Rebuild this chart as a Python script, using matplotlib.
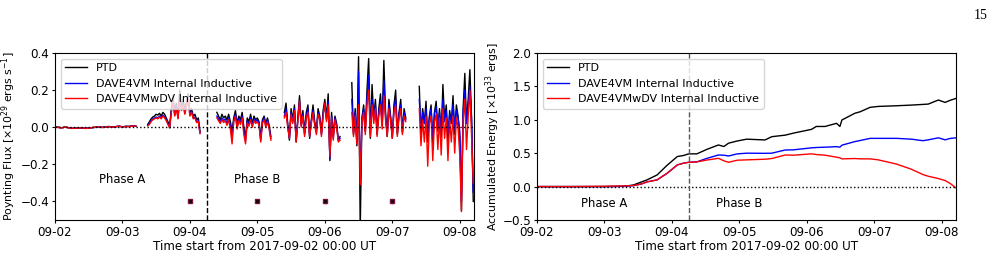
import numpy as np
import matplotlib
matplotlib.use("Agg")
import matplotlib.pyplot as plt
import matplotlib.dates as mdates

# ---- Poynting flux (x1e29 ergs/s); each segment = (start day, cadence in days) ----
seg_start_days = [0.0, 1.375, 2.4, 3.4, 4.4, 5.4]
seg_step_days = [0.05, 0.025, 0.025, 0.025, 0.025, 0.025]

flux_ptd = [
    [0.002, 0.000, -0.003, 0.001, -0.002, -0.006, -0.004, -0.005, -0.003, -0.006, -0.004, -0.002, 0.000,
     0.003, -0.001, 0.002, 0.004, 0.001, 0.003, 0.006, 0.002, 0.005, 0.004, 0.008, 0.006],
    [0.015, 0.03, 0.045, 0.055, 0.06, 0.07, 0.065, 0.075, 0.06, 0.08, 0.07, 0.05, 0.03, 0.005, 0.10, 0.17,
     0.08, 0.13, 0.06, 0.20, 0.11, 0.15, 0.09, 0.14, 0.18, 0.08, 0.10, 0.06, 0.07, 0.04, 0.05, -0.025],
    [0.08, 0.06, 0.04, 0.07, 0.05, 0.06, 0.04, 0.07, 0.03, -0.02, 0.05, 0.09, 0.02, 0.06, 0.04, 0.08, 0.00,
     -0.06, 0.05, 0.03, 0.07, 0.02, 0.06, 0.04, 0.05, 0.03, -0.06, 0.04, 0.06, 0.02, 0.05, 0.01, -0.05],
    [0.08, 0.13, 0.02, -0.07, 0.10, 0.04, 0.12, -0.08, 0.05, 0.17, 0.02, 0.09, -0.03, 0.08, 0.12, -0.06, 0.04,
     0.12, 0.03, -0.02, 0.10, 0.06, -0.03, 0.09, 0.15, 0.05, 0.18, -0.18, 0.08, -0.05, 0.06, 0.02, -0.07, -0.05],
    [0.24, -0.04, 0.10, -0.10, 0.38, -0.55, 0.05, 0.12, -0.02, 0.20, 0.37, -0.06, 0.23, 0.05, 0.15, -0.04,
     0.10, 0.18, 0.02, 0.36, 0.08, -0.05, 0.15, 0.06, -0.06, 0.12, 0.20, -0.04, 0.08, 0.15, -0.03, 0.10, 0.05],
    [0.22, -0.05, 0.10, 0.02, 0.14, -0.08, 0.06, 0.12, -0.10, 0.08, 0.14, -0.02, 0.10, -0.06, 0.23, 0.04,
     0.12, -0.08, 0.09, 0.02, 0.17, -0.04, 0.12, 0.06, -0.05, -0.45, 0.10, 0.29, 0.02, 0.15, 0.31, 0.05, -0.40],
]
flux_dave = [
    [0.001, -0.001, -0.003, 0.000, -0.003, -0.006, -0.005, -0.005, -0.004, -0.006, -0.004, -0.003, -0.001,
     0.002, -0.001, 0.001, 0.003, 0.001, 0.002, 0.005, 0.002, 0.004, 0.004, 0.007, 0.005],
    [0.01, 0.02, 0.035, 0.045, 0.05, 0.055, 0.05, 0.06, 0.05, 0.065, 0.055, 0.04, 0.02, 0.0, 0.085, 0.15,
     0.065, 0.11, 0.05, 0.18, 0.095, 0.13, 0.075, 0.12, 0.16, 0.065, 0.085, 0.05, 0.055, 0.03, 0.035, -0.03],
    [0.06, 0.045, 0.03, 0.05, 0.035, 0.045, 0.02, 0.05, 0.01, -0.05, 0.035, 0.07, 0.0, 0.045, 0.025, 0.06,
     -0.02, -0.075, 0.035, 0.015, 0.05, 0.01, 0.045, 0.03, 0.04, 0.02, -0.07, 0.03, 0.05, 0.01, 0.04, 0.0, -0.06],
    [0.06, 0.10, 0.01, -0.06, 0.08, 0.03, 0.10, -0.07, 0.04, 0.14, 0.01, 0.07, -0.04, 0.06, 0.10, -0.05, 0.03,
     0.09, 0.02, -0.03, 0.08, 0.05, -0.04, 0.07, 0.12, 0.04, 0.14, -0.17, 0.06, -0.06, 0.05, 0.01, -0.07, -0.06],
    [0.15, -0.03, 0.08, -0.08, 0.30, -0.30, 0.04, 0.10, -0.02, 0.15, 0.28, -0.04, 0.15, 0.04, 0.12, -0.03,
     0.08, 0.14, 0.01, 0.25, 0.06, -0.04, 0.12, 0.05, -0.05, 0.10, 0.15, -0.03, 0.07, 0.12, -0.02, 0.08, 0.04],
    [0.15, 0.0, 0.08, 0.02, 0.10, -0.04, 0.05, 0.10, -0.05, 0.07, 0.11, 0.0, 0.08, -0.03, 0.15, 0.03,
     0.09, -0.04, 0.07, 0.02, 0.12, -0.01, 0.09, 0.05, -0.02, -0.40, 0.08, 0.20, 0.02, 0.12, 0.22, 0.04, -0.35],
]
flux_davewdv = [
    [0.002, -0.002, -0.004, 0.001, -0.003, -0.007, -0.004, -0.006, -0.003, -0.007, -0.005, -0.002, 0.000,
     0.002, -0.002, 0.001, 0.003, 0.000, 0.003, 0.005, 0.001, 0.004, 0.003, 0.007, 0.005],
    [0.008, 0.015, 0.03, 0.04, 0.045, 0.05, 0.045, 0.055, 0.045, 0.06, 0.05, 0.035, 0.015, -0.005, 0.08, 0.14,
     0.06, 0.10, 0.045, 0.17, 0.09, 0.12, 0.07, 0.11, 0.15, 0.06, 0.08, 0.045, 0.05, 0.025, 0.03, -0.035],
    [0.05, 0.035, 0.02, 0.04, 0.025, 0.035, 0.01, 0.04, -0.01, -0.09, 0.03, 0.06, -0.01, 0.035, 0.015, 0.05,
     -0.04, -0.09, 0.025, 0.005, 0.04, 0.0, 0.035, 0.02, 0.03, 0.01, -0.08, 0.02, 0.04, 0.0, 0.03, -0.01, -0.07],
    [0.05, 0.08, 0.0, -0.06, 0.07, 0.02, 0.09, -0.08, 0.03, 0.14, 0.0, 0.06, -0.05, 0.05, 0.08, -0.05, 0.02,
     0.08, 0.01, -0.04, 0.07, 0.04, -0.05, 0.06, 0.13, 0.03, 0.12, -0.16, 0.05, -0.07, 0.04, 0.0, -0.08, -0.07],
    [0.08, -0.05, 0.06, -0.09, 0.12, -0.31, 0.03, 0.08, -0.04, 0.12, 0.20, -0.05, 0.12, 0.02, 0.10, -0.05,
     0.06, 0.12, -0.01, 0.17, 0.04, -0.05, 0.10, 0.03, -0.06, 0.08, 0.12, -0.05, 0.05, 0.10, -0.04, 0.06, 0.03],
    [0.10, -0.10, 0.04, -0.08, 0.06, -0.21, 0.02, 0.06, -0.18, 0.03, 0.07, -0.12, 0.05, -0.15, 0.10, -0.06,
     0.05, -0.18, 0.04, -0.08, 0.06, -0.14, 0.05, 0.0, -0.15, -0.455, 0.03, 0.15, -0.12, 0.06, 0.20, -0.05, -0.30],
]

# uncertainty markers at -0.4
err_days = [2, 3, 4, 5]
err_vals = [-0.4, -0.4, -0.4, -0.4]
err_size = [0.005, 0.005, 0.01, 0.01]

# ---- Accumulated energy (x1e33 ergs) ----
energy_days = [0, 0.5, 1.0, 1.3, 1.43, 1.55, 1.63, 1.78, 1.93, 2.08, 2.17, 2.25, 2.37, 2.52, 2.69, 2.77,
               2.84, 2.97, 3.11, 3.38, 3.48, 3.68, 3.80, 4.07, 4.14, 4.27, 4.44, 4.49, 4.52, 4.71, 4.79,
               4.94, 5.06, 5.33, 5.55, 5.72, 5.80, 5.95, 6.05, 6.12, 6.21]
energy_ptd = [0, 0, 0, 0.005, 0.024, 0.07, 0.10, 0.174, 0.32, 0.45, 0.465, 0.49, 0.49, 0.558, 0.623, 0.60,
              0.65, 0.683, 0.71, 0.698, 0.747, 0.77, 0.80, 0.857, 0.90, 0.90, 0.947, 0.90, 0.997, 1.097, 1.12,
              1.187, 1.20, 1.21, 1.22, 1.23, 1.235, 1.296, 1.26, 1.29, 1.32]
energy_dave = [0, 0, 0, 0.003, 0.015, 0.04, 0.07, 0.10, 0.20, 0.324, 0.35, 0.364, 0.37, 0.423, 0.473, 0.47,
               0.458, 0.49, 0.50, 0.498, 0.50, 0.548, 0.55, 0.58, 0.585, 0.59, 0.598, 0.59, 0.62, 0.673, 0.69,
               0.722, 0.722, 0.722, 0.71, 0.687, 0.70, 0.73, 0.70, 0.72, 0.73]
energy_davewdv = [0, 0, 0.005, 0.01, 0.015, 0.04, 0.07, 0.10, 0.20, 0.324, 0.35, 0.364, 0.37, 0.398, 0.423, 0.386,
                  0.364, 0.395, 0.40, 0.41, 0.42, 0.473, 0.47, 0.49, 0.48, 0.47, 0.44, 0.43, 0.415, 0.42, 0.415,
                  0.415, 0.40, 0.337, 0.26, 0.18, 0.155, 0.12, 0.09, 0.05, -0.02]

labels = ["PTD", "DAVE4VM Internal Inductive", "DAVE4VMwDV Internal Inductive"]
colors = ["black", "blue", "red"]
phase_split_days = 2.25
t_end_days = 6.21

T0 = np.datetime64("2017-09-02T00:00")


def to_time(days):
    return T0 + (np.asarray(days, dtype=float) * 86400).astype("timedelta64[s]")


def join_segments(segments):
    # put each segment on its own time grid, NaN between so the line breaks at gaps
    days, vals = [], []
    for start, step, seg in zip(seg_start_days, seg_step_days, segments):
        days.extend(start + step * np.arange(len(seg)))
        vals.extend(seg)
        days.append(days[-1] + step / 2)
        vals.append(np.nan)
    return np.array(days), np.array(vals)


FS = 8.6
plt.rcParams["font.size"] = FS

fig = plt.figure(figsize=(9.99, 2.79), dpi=100)
ax1 = fig.add_axes([0.055, 0.2115, 0.4194, 0.5986])
ax2 = fig.add_axes([0.5375, 0.2115, 0.4194, 0.5986])

for segs, lab, col in zip([flux_ptd, flux_dave, flux_davewdv], labels, colors):
    d, v = join_segments(segs)
    ax1.plot(to_time(d), v, color=col, lw=1.0, label=lab)
ax1.errorbar(to_time(err_days), err_vals, yerr=err_size, fmt="s", ms=3, mfc="black", mec="#7a1040",
             ecolor="#9a3070", elinewidth=1, capsize=1)
ax1.axhline(0, color="black", ls=":", lw=1)
ax1.axvline(to_time(phase_split_days), color="black", ls="--", lw=1)
ax1.set_ylim(-0.5, 0.4)
ax1.set_yticks([-0.4, -0.2, 0.0, 0.2, 0.4])
ax1.set_ylabel(r"Poynting Flux [$\times 10^{29}$ ergs s$^{-1}$]", fontsize=7.9)
ax1.yaxis.set_label_coords(-0.088, 0.5)
ax1.text(to_time(1.0), -0.28, "Phase A", ha="center", va="center", fontsize=8.4)
ax1.text(to_time(3.0), -0.28, "Phase B", ha="center", va="center", fontsize=8.4)

energy_t = to_time(energy_days)
for vals, lab, col in zip([energy_ptd, energy_dave, energy_davewdv], labels, colors):
    ax2.plot(energy_t, vals, color=col, lw=1.0, label=lab)
ax2.axhline(0, color="black", ls=":", lw=1)
ax2.axvline(to_time(phase_split_days), color="0.35", ls="--", lw=1)
ax2.set_ylim(-0.5, 2.0)
ax2.set_yticks([-0.5, 0.0, 0.5, 1.0, 1.5, 2.0])
ax2.set_ylabel(r"Accumulated Energy [$\times 10^{33}$ ergs]", fontsize=7.9)
ax2.yaxis.set_label_coords(-0.0835, 0.5)
ax2.text(to_time(1.0), -0.25, "Phase A", ha="center", va="center", fontsize=8.4)
ax2.text(to_time(3.0), -0.25, "Phase B", ha="center", va="center", fontsize=8.4)

for ax in (ax1, ax2):
    ax.set_xlim(to_time(0), to_time(t_end_days))
    ax.xaxis.set_major_locator(mdates.DayLocator())
    ax.xaxis.set_major_formatter(mdates.DateFormatter("%m-%d"))
    ax.tick_params(length=2.5, pad=1.5)
    ax.set_xlabel("Time start from 2017-09-02 00:00 UT", labelpad=1)
    ax.legend(loc="upper left", fontsize=8.0, handlelength=2.0)

fig.text(0.982, 0.945, "15", ha="center", va="center", fontsize=10, family="Liberation Serif")

fig.savefig("out.png", dpi=100)
